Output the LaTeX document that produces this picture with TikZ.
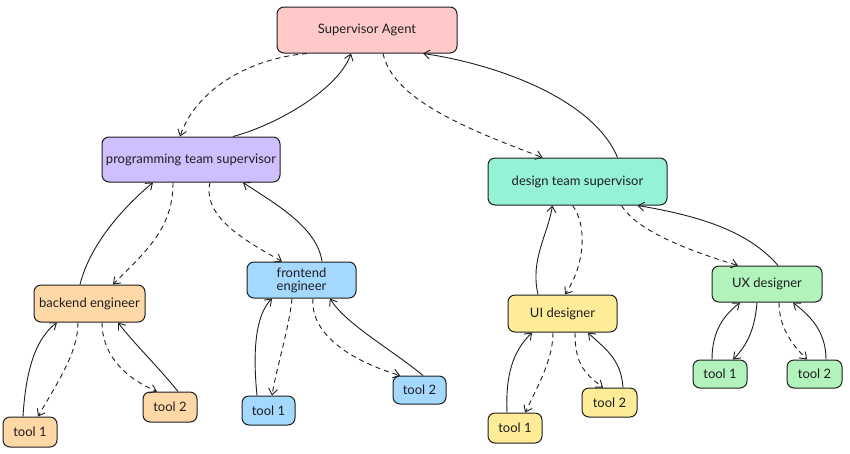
\documentclass[tikz,border=0pt]{standalone}
\usepackage{fontspec}
\setmainfont{Lato}
\usetikzlibrary{arrows.meta}
\definecolor{ink}{HTML}{1E1E1E}
\definecolor{cpink}{HTML}{FFC9C9}
\definecolor{cpurple}{HTML}{D0BFFF}
\definecolor{cmint}{HTML}{96F2D7}
\definecolor{corange}{HTML}{FFD8A8}
\definecolor{cblue}{HTML}{A5D8FF}
\definecolor{cyellow}{HTML}{FFEC99}
\definecolor{cgreen}{HTML}{B2F2BB}
\tikzset{
  box/.style={draw=ink, line width=1pt, rounded corners=7pt, inner sep=0pt,
    text=ink, font=\fontsize{13}{15}\selectfont, align=center},
  conn/.style={draw=ink, line width=0.9pt, -{Straight Barb[length=6pt,width=9pt,line width=0.9pt]}},
  dconn/.style={conn, dash pattern=on 5pt off 4pt},
}
\begin{document}
\begin{tikzpicture}[x=1pt,y=-1pt]
\useasboundingbox (0,0) rectangle (850,453);
\fill[white] (0,0) rectangle (850,453);
% main nodes
\node[box, fill=cpink, minimum width=180pt, minimum height=46pt] (sup) at (367,30) {Supervisor Agent};
\node[box, fill=cpurple, minimum width=178pt, minimum height=45pt] (prog) at (191,159.5) {programming team supervisor};
\node[box, fill=cmint, minimum width=179pt, minimum height=47pt] (des) at (577.5,181.5) {design team supervisor};
\node[box, fill=corange, minimum width=111pt, minimum height=37pt] (be) at (89.5,303.5) {backend engineer};
\node[box, fill=cblue, minimum width=109pt, minimum height=36pt] (fe) at (301.5,280) {frontend\\[-2pt]engineer};
\node[box, fill=cyellow, minimum width=109pt, minimum height=37pt] (ui) at (562.5,313.5) {UI designer};
\node[box, fill=cgreen, minimum width=110pt, minimum height=36pt] (ux) at (767,284) {UX designer};
% tools
\node[box, fill=corange, minimum width=54pt, minimum height=30pt] (bt1) at (30,432) {tool 1};
\node[box, fill=corange, minimum width=54pt, minimum height=30pt] (bt2) at (170,407) {tool 2};
\node[box, fill=cblue, minimum width=53pt, minimum height=29pt] (ft1) at (268.5,410.5) {tool 1};
\node[box, fill=cblue, minimum width=53pt, minimum height=28pt] (ft2) at (419.5,390) {tool 2};
\node[box, fill=cyellow, minimum width=54pt, minimum height=30pt] (ut1) at (515,428) {tool 1};
\node[box, fill=cyellow, minimum width=55pt, minimum height=29pt] (ut2) at (609.5,402.5) {tool 2};
\node[box, fill=cgreen, minimum width=54pt, minimum height=28pt] (xt1) at (720,374) {tool 1};
\node[box, fill=cgreen, minimum width=55pt, minimum height=28pt] (xt2) at (814.5,374) {tool 2};
% top level
\draw[dconn] ([xshift=-60pt]sup.south) .. controls +(-60,5) and +(15,-45) .. ([xshift=-11pt]prog.north);
\draw[conn] ([xshift=42pt]prog.north) .. controls +(45,-12) and +(-12,35) .. ([xshift=-16pt]sup.south);
\draw[dconn] ([xshift=16pt]sup.south) .. controls +(10,45) and +(-80,-30) .. ([xshift=-35pt]des.north);
\draw[conn] ([xshift=40pt]des.north) .. controls +(-25,-60) and +(70,10) .. ([xshift=56pt]sup.south);
% programming
\draw[conn] ([xshift=-9.5pt]be.north) .. controls +(10,-40) and +(-30,25) .. ([xshift=-38pt]prog.south);
\draw[dconn] ([xshift=-18pt]prog.south) .. controls +(0,45) and +(35,-35) .. ([xshift=23.5pt]be.north);
\draw[dconn] ([xshift=19pt]prog.south) .. controls +(-8,35) and +(-35,-20) .. ([xshift=-19.5pt]fe.north);
\draw[conn] ([xshift=20.5pt]fe.north) .. controls +(-5,-35) and +(30,20) .. ([xshift=52pt]prog.south);
% design
\draw[conn] ([xshift=-24.5pt]ui.north) .. controls +(-8,-35) and +(-5,30) .. ([xshift=-25pt]des.south);
\draw[dconn] ([xshift=-5pt]des.south) .. controls +(15,20) and +(20,-30) .. ([xshift=2.5pt]ui.north);
\draw[dconn] ([xshift=44pt]des.south) .. controls +(15,25) and +(-50,-15) .. ([xshift=-29pt]ux.north);
\draw[conn] ([xshift=11pt]ux.north) .. controls +(-30,-35) and +(60,10) .. ([xshift=60pt]des.south);
% backend tools
\draw[conn] ([xshift=-7pt]bt1.north) .. controls +(3,-50) and +(-20,15) .. ([xshift=-32.5pt]be.south);
\draw[dconn] ([xshift=-11.5pt]be.south) .. controls +(0,30) and +(20,-35) .. ([xshift=8pt]bt1.north);
\draw[dconn] ([xshift=12.5pt]be.south) .. controls +(0,30) and +(-35,-15) .. ([xshift=-13pt]bt2.north);
\draw[conn] ([xshift=8pt]bt2.north) .. controls +(-20,-25) and +(15,20) .. ([xshift=28.5pt]be.south);
% frontend tools
\draw[conn] ([xshift=-11.5pt]ft1.north) .. controls +(-5,-50) and +(-15,15) .. ([xshift=-29.5pt]fe.south);
\draw[dconn] ([xshift=-9.5pt]fe.south) .. controls +(-3,30) and +(5,-30) .. ([xshift=3.5pt]ft1.north);
\draw[dconn] ([xshift=11.5pt]fe.south) .. controls +(-3,35) and +(-50,-15) .. ([xshift=-19.5pt]ft2.north);
\draw[conn] ([xshift=3.5pt]ft2.north) .. controls +(-30,-25) and +(15,25) .. ([xshift=28.5pt]fe.south);
% UI tools
\draw[conn] ([xshift=-8pt]ut1.north) .. controls +(-2,-45) and +(-15,15) .. ([xshift=-30.5pt]ui.south);
\draw[dconn] ([xshift=-9.5pt]ui.south) .. controls +(0,25) and +(15,-30) .. ([xshift=10pt]ut1.north);
\draw[dconn] ([xshift=12.5pt]ui.south) .. controls +(0,30) and +(-20,-15) .. ([xshift=-6.5pt]ut2.north);
\draw[conn] ([xshift=13.5pt]ut2.north) .. controls +(-2,-30) and +(15,15) .. ([xshift=25.5pt]ui.south);
% UX tools
\draw[conn] ([xshift=-8pt]xt1.north) .. controls +(0,-30) and +(-15,12) .. ([xshift=-27pt]ux.south);
\draw[conn] ([xshift=-10pt]ux.south) .. controls +(-2,25) and +(15,-15) .. ([xshift=13pt]xt1.north);
\draw[dconn] ([xshift=12pt]ux.south) .. controls +(0,25) and +(-15,-15) .. ([xshift=-7.5pt]xt2.north);
\draw[conn] ([xshift=11.5pt]xt2.north) .. controls +(0,-30) and +(15,12) .. ([xshift=26pt]ux.south);
\end{tikzpicture}
\end{document}
